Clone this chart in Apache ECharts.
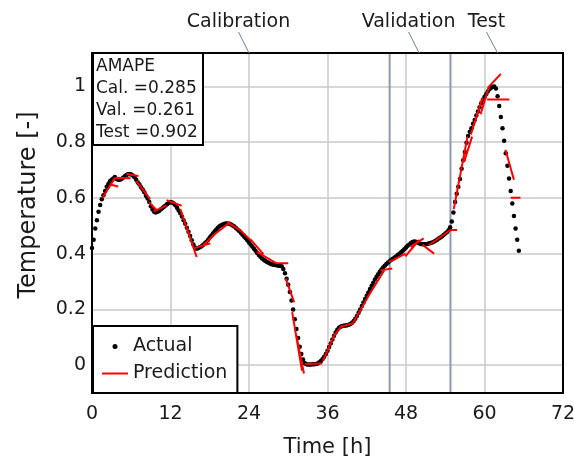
<!DOCTYPE html>
<html>
<head>
<meta charset="utf-8">
<script src="https://cdn.jsdelivr.net/npm/echarts@6/dist/echarts.min.js"></script>
<style>
  html, body { margin: 0; padding: 0; background: #fff; }
  #chart { width: 574px; height: 456px; }
</style>
</head>
<body>
<div id="chart"></div>
<script>
  // measured temperature, one value every 15 min starting at t = 0 h
  const sampleStep = 0.25
  const actualValues = [
    0.42, 0.45, 0.49, 0.52,   0.55, 0.575, 0.595, 0.61,   0.625, 0.64, 0.65, 0.66,
    0.665, 0.67, 0.675, 0.668,   0.665, 0.665, 0.668, 0.672,   0.678, 0.682, 0.685, 0.686,
    0.684, 0.68, 0.674, 0.665,   0.655, 0.648, 0.638, 0.63,   0.62, 0.608, 0.598, 0.585,
    0.57, 0.558, 0.55, 0.548,   0.55, 0.553, 0.558, 0.563,   0.568, 0.573, 0.578, 0.582,
    0.585, 0.584, 0.58, 0.574,   0.565, 0.555, 0.545, 0.533,   0.52, 0.507, 0.493, 0.479,
    0.463, 0.448, 0.433, 0.422,   0.418, 0.42, 0.423, 0.427,   0.432, 0.437, 0.443, 0.45,
    0.458, 0.465, 0.472, 0.48,   0.487, 0.493, 0.498, 0.502,   0.505, 0.507, 0.508, 0.508,
    0.507, 0.505, 0.501, 0.497,   0.492, 0.487, 0.481, 0.475,   0.468, 0.462, 0.455, 0.448,
    0.44, 0.433, 0.426, 0.418,   0.41, 0.402, 0.395, 0.389,   0.383, 0.378, 0.374, 0.37,
    0.367, 0.364, 0.362, 0.36,   0.359, 0.358, 0.357, 0.357,   0.355, 0.345, 0.33, 0.31,
    0.288, 0.262, 0.232, 0.2,   0.165, 0.13, 0.097, 0.066,   0.04, 0.02, 0.008, 0.003,
    0.002, 0.002, 0.002, 0.003,   0.003, 0.004, 0.006, 0.01,   0.015, 0.022, 0.03, 0.04,
    0.052, 0.065, 0.078, 0.092,   0.105, 0.117, 0.127, 0.134,   0.138, 0.14, 0.141, 0.142,
    0.143, 0.145, 0.148, 0.152,   0.158, 0.166, 0.176, 0.188,   0.2, 0.212, 0.225, 0.237,
    0.249, 0.261, 0.273, 0.285,   0.296, 0.307, 0.317, 0.326,   0.335, 0.343, 0.35, 0.357,
    0.363, 0.368, 0.373, 0.378,   0.382, 0.386, 0.39, 0.395,   0.4, 0.405, 0.41, 0.416,
    0.422, 0.428, 0.433, 0.438,   0.442, 0.444, 0.443, 0.44,   0.437, 0.435, 0.434, 0.434,
    0.434, 0.435, 0.436, 0.438,   0.44, 0.443, 0.446, 0.45,   0.454, 0.458, 0.462, 0.467,
    0.472, 0.477, 0.484, 0.495,   0.515, 0.548, 0.585, 0.615,   0.64, 0.668, 0.705, 0.735,
    0.765, 0.798, 0.822, 0.837,   0.85, 0.866, 0.88, 0.896,   0.91, 0.925, 0.94, 0.952,
    0.962, 0.972, 0.982, 0.99,   0.995, 0.999, 1.0, 0.993,   0.965, 0.93, 0.89, 0.85,
    0.805, 0.76, 0.715, 0.67,   0.625, 0.58, 0.535, 0.49,   0.45, 0.41
  ]

  // prediction pieces: [start h, start value, end h, end value]
  const predSegments = [
    [1.6, 0.60, 3.5, 0.672], [2.8, 0.648, 4.0, 0.641], [3.6, 0.672, 5.9, 0.671],
    [5.3, 0.686, 7.1, 0.679], [6.8, 0.66, 8.9, 0.595], [8.7, 0.585, 9.9, 0.556],
    [9.4, 0.551, 11.4, 0.573], [11.4, 0.592, 13.7, 0.572], [13.5, 0.56, 16.0, 0.388],
    [15.5, 0.419, 18.1, 0.437], [17.0, 0.43, 19.0, 0.475], [18.6, 0.467, 21.1, 0.513],
    [20.7, 0.513, 22.9, 0.48], [22.7, 0.483, 24.4, 0.445], [24.2, 0.452, 26.2, 0.398],
    [25.2, 0.406, 28.2, 0.365], [28.0, 0.366, 30.0, 0.366], [29.6, 0.311, 30.9, 0.226],
    [30.6, 0.19, 32.1, -0.02], [31.2, 0.11, 32.4, -0.03], [32.6, 0.004, 35.2, 0.006],
    [35.3, 0.015, 37.0, 0.105], [36.8, 0.10, 38.2, 0.142], [38.1, 0.138, 40.1, 0.152],
    [40.0, 0.155, 42.6, 0.262], [42.3, 0.25, 44.8, 0.345], [44.1, 0.34, 45.9, 0.347],
    [45.4, 0.37, 47.9, 0.40], [47.9, 0.39, 50.0, 0.449], [48.7, 0.425, 50.7, 0.455],
    [50.5, 0.432, 52.3, 0.40], [51.5, 0.431, 54.8, 0.485], [54.8, 0.485, 55.8, 0.485],
    [55.3, 0.56, 57.4, 0.82], [56.9, 0.73, 58.1, 0.82], [57.9, 0.827, 59.7, 0.959],
    [59.4, 0.90, 60.7, 1.0], [60.4, 0.953, 63.8, 0.953], [60.5, 0.995, 62.5, 1.045],
    [63.2, 0.773, 64.5, 0.665], [64.0, 0.601, 65.5, 0.601]
  ]

  const xTicks = [0, 12, 24, 36, 48, 60, 72]
  const yTicks = [0, 0.2, 0.4, 0.6, 0.8, 1]
  const yTickLabels = ['0', '0.2', '0.4', '0.6', '0.8', '1']
  const amapeLines = ['AMAPE', 'Cal. =0.285', 'Val. =0.261', 'Test =0.902']
  const phaseNames = ['Calibration', 'Validation', 'Test']
  const phaseLabelAt = [22.4, 48.4, 60.3]   // label centre, hours
  const phaseTargets = [24, 50, 62]          // where the pointer hits the top edge
  const validationRange = [45.5, 54.8]

  const yMin = -0.1
  const yMax = 1.12
  const font = 'DejaVu Sans'

  const actualData = actualValues.map((v, i) => [i * sampleStep, v])
  const predData = []
  predSegments.forEach(s => {
    predData.push([s[0], s[1]], [s[2], s[3]], [s[2], null])
  })

  const chart = echarts.init(document.getElementById('chart'))
  chart.setOption({
    backgroundColor: '#fff',
    animation: false,
    textStyle: { fontFamily: font },
    grid: { left: 92, right: 11, top: 53, bottom: 63, outerBoundsMode: 'none' },
    title: {
      text: amapeLines.join('\n'),
      left: 93,
      top: 53,
      padding: [3, 5, 1, 3],
      backgroundColor: '#fff',
      borderColor: '#000',
      borderWidth: 2,
      textStyle: { fontFamily: font, fontSize: 17, fontWeight: 'normal', lineHeight: 22, color: '#1a1a1a' }
    },
    legend: {
      orient: 'vertical',
      left: 93,
      bottom: 63,
      padding: [11, 10, 10, 9],
      itemWidth: 26,
      itemHeight: 5,
      itemGap: 8,
      backgroundColor: '#fff',
      borderColor: '#000',
      borderWidth: 2,
      textStyle: { fontFamily: font, fontSize: 19, color: '#1a1a1a' },
      data: [
        { name: 'Actual', icon: 'circle' },
        { name: 'Prediction', icon: 'path://M0,0L26,0L26,2L0,2Z' }
      ]
    },
    xAxis: {
      type: 'value',
      min: 0,
      max: 72,
      interval: 12,
      name: 'Time [h]',
      nameLocation: 'middle',
      nameGap: 44,
      nameTextStyle: { fontFamily: font, fontSize: 21, color: '#1a1a1a' },
      axisLine: { show: false },
      axisTick: { show: false },
      axisLabel: { margin: 12, fontSize: 19, color: '#1a1a1a', fontFamily: font },
      splitLine: { show: true, lineStyle: { color: '#cacaca', width: 1.5 } }
    },
    yAxis: {
      type: 'value',
      min: yMin,
      max: yMax,
      axisLine: { show: false },
      axisTick: { show: false, customValues: yTicks },
      axisLabel: {
        margin: 6, fontSize: 19, color: '#1a1a1a', fontFamily: font,
        customValues: yTicks,
        formatter: v => yTickLabels[yTicks.indexOf(v)]
      },
      splitLine: { show: true, lineStyle: { color: '#cacaca', width: 1.5 } }
    },
    series: [{
      name: 'Actual',
      type: 'scatter',
      symbolSize: 4.5,
      z: 2,
      itemStyle: { color: '#000', opacity: 1 },
      data: actualData,
      markArea: {
        silent: true,
        itemStyle: { color: 'rgba(0,0,0,0)', borderColor: '#8e99b4', borderWidth: 2 },
        data: [[{ xAxis: validationRange[0] }, { xAxis: validationRange[1] }]]
      }
    }, {
      name: 'Prediction',
      type: 'line',
      symbol: 'none',
      z: 3,
      connectNulls: false,
      lineStyle: { color: '#ff0000', width: 2 },
      itemStyle: { color: '#ff0000' },
      data: predData
    }]
  })

  // plot frame, y axis title and the phase pointers above the plot
  const p0 = chart.convertToPixel({ gridIndex: 0 }, [0, yMax])
  const p1 = chart.convertToPixel({ gridIndex: 0 }, [72, yMin])
  const graphics = [{
    type: 'rect',
    z: 10,
    silent: true,
    shape: { x: p0[0], y: p0[1], width: p1[0] - p0[0], height: p1[1] - p0[1] },
    style: { fill: null, stroke: '#000', lineWidth: 2 }
  }, {
    type: 'text',
    z: 10,
    x: 29,
    y: 205,
    rotation: Math.PI / 2,
    style: {
      text: 'Temperature [-]', x: 0, y: 0, align: 'center', verticalAlign: 'middle',
      font: '24px "DejaVu Sans"', fill: '#1a1a1a'
    }
  }]
  phaseNames.forEach((name, i) => {
    const lx = chart.convertToPixel({ gridIndex: 0 }, [phaseLabelAt[i], yMax])[0]
    const tx = chart.convertToPixel({ gridIndex: 0 }, [phaseTargets[i], yMax])[0]
    graphics.push({
      type: 'text',
      z: 10,
      style: {
        text: name, x: lx, y: 22, align: 'center', verticalAlign: 'middle',
        font: '19px "DejaVu Sans"', fill: '#1a1a1a'
      }
    }, {
      type: 'line',
      z: 10,
      shape: { x1: lx, y1: 32, x2: tx, y2: p0[1] },
      style: { stroke: '#6f7d9c', lineWidth: 1 }
    })
  })
  chart.setOption({ graphic: graphics })
</script>
</body>
</html>
